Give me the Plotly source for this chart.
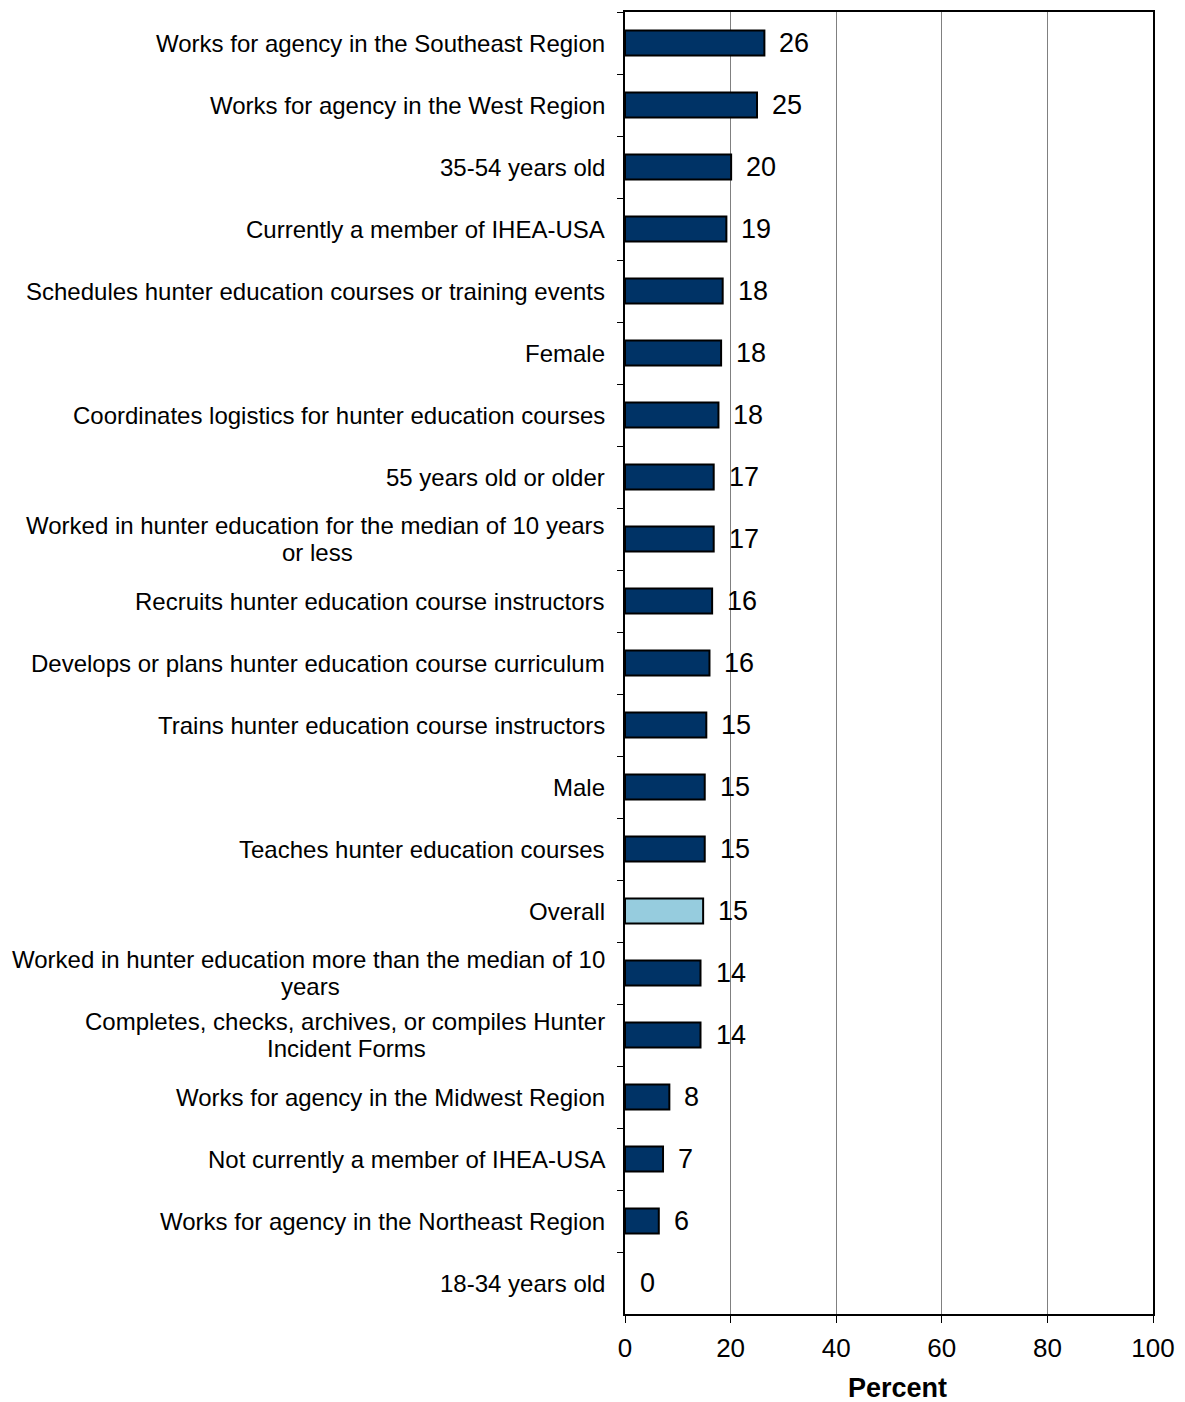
import plotly.graph_objects as go

# Categories, top to bottom
categories = [
    "Works for agency in the Southeast Region",
    "Works for agency in the West Region",
    "35-54 years old",
    "Currently a member of IHEA-USA",
    "Schedules hunter education courses or training events",
    "Female",
    "Coordinates logistics for hunter education courses",
    "55 years old or older",
    "Worked in hunter education for the median of 10 years<br>or less",
    "Recruits hunter education course instructors",
    "Develops or plans hunter education course curriculum",
    "Trains hunter education course instructors",
    "Male",
    "Teaches hunter education courses",
    "Overall",
    "Worked in hunter education more than the median of 10<br>years",
    "Completes, checks, archives, or compiles Hunter<br>Incident Forms",
    "Works for agency in the Midwest Region",
    "Not currently a member of IHEA-USA",
    "Works for agency in the Northeast Region",
    "18-34 years old",
]

# Percent values
percent = [26.4, 25.0, 20.1, 19.2, 18.5, 18.2, 17.7, 16.8, 16.8, 16.5, 16.0,
           15.4, 15.1, 15.1, 14.8, 14.3, 14.3, 8.4, 7.2, 6.4, 0.0]

x_ticks = [0, 20, 40, 60, 80, 100]

NAVY = "#003366"
LIGHT = "#96CCDE"
FONT = "Liberation Sans, Arial, sans-serif"
LABEL_SIZE = 24
LABEL_PAD = 18   # px gap between label block and the axis
LINE_GAP = 27    # px between lines of a wrapped category label

# Arial / Liberation Sans advance widths (per 1000 em) for label measuring
_ADV = {" ": 278, ",": 278, "-": 333, "A": 667, "C": 722, "E": 667, "F": 611,
        "H": 722, "I": 278, "M": 833, "N": 722, "O": 778, "R": 722, "S": 667,
        "T": 611, "U": 722, "W": 944, "a": 556, "b": 556, "c": 500, "d": 556,
        "e": 556, "f": 278, "g": 556, "h": 556, "i": 222, "j": 222, "k": 500,
        "l": 222, "m": 833, "n": 556, "o": 556, "p": 556, "q": 556, "r": 333,
        "s": 500, "t": 278, "u": 556, "v": 500, "w": 722, "x": 500, "y": 500,
        "z": 500}


def text_width(s, size):
    return sum(_ADV.get(ch, 556) for ch in s) * size / 1000.0


bar_colors = [LIGHT if c == "Overall" else NAVY for c in categories]
bar_lines = [2 if v > 0 else 0 for v in percent]

fig = go.Figure()
fig.add_trace(go.Bar(
    x=percent,
    y=categories,
    orientation="h",
    width=0.4,
    marker=dict(color=bar_colors, line=dict(color="black", width=bar_lines)),
    hoverinfo="x+y",
))

# Category labels: right-aligned block, wrapped lines centred under the first
for c in categories:
    lines = c.split("<br>")
    n = len(lines)
    block_w = text_width(lines[0], LABEL_SIZE)
    for i, line in enumerate(lines):
        if i == 0:
            anchor, shift = "right", -LABEL_PAD
        else:
            anchor, shift = "center", -LABEL_PAD - block_w / 2
        fig.add_annotation(
            x=0, xref="paper", y=c, yref="y",
            text=line, showarrow=False,
            xanchor=anchor, yanchor="middle",
            xshift=shift,
            yshift=((n - 1) / 2 - i) * LINE_GAP,
            font=dict(family=FONT, size=LABEL_SIZE, color="black"),
        )

# Value labels beside each bar
for c, v in zip(categories, percent):
    fig.add_annotation(
        x=v, xref="x", y=c, yref="y",
        text=f"{round(v):.0f}", showarrow=False,
        xanchor="left", yanchor="middle",
        xshift=13,
        font=dict(family=FONT, size=27, color="black"),
    )

# Axis title
fig.add_annotation(
    x=0.516, xref="paper", y=-0.057, yref="paper",
    text="<b>Percent</b>", showarrow=False,
    xanchor="center", yanchor="middle",
    font=dict(family=FONT, size=27, color="black"),
)

fig.update_layout(
    width=1185, height=1402,
    margin=dict(l=625, r=30, t=10, b=88),
    paper_bgcolor="white", plot_bgcolor="white",
    showlegend=False,
    font=dict(family=FONT, color="black"),
    xaxis=dict(
        range=[0, 100],
        tickvals=x_ticks,
        ticks="outside", ticklen=7, tickcolor="black", tickwidth=1,
        ticklabelstandoff=3,
        showline=True, linecolor="black", linewidth=2, mirror=True,
        showgrid=True, gridcolor="#808080", gridwidth=1,
        zeroline=False,
        tickfont=dict(family=FONT, size=26, color="black"),
    ),
    yaxis=dict(
        type="category",
        categoryorder="array", categoryarray=categories,
        autorange="reversed",
        showticklabels=False,
        ticks="outside", ticklen=6, tickcolor="black", tickwidth=1,
        tickson="boundaries",
        showline=True, linecolor="black", linewidth=2, mirror=True,
        showgrid=False, zeroline=False,
    ),
)

fig.write_html("out.html")
